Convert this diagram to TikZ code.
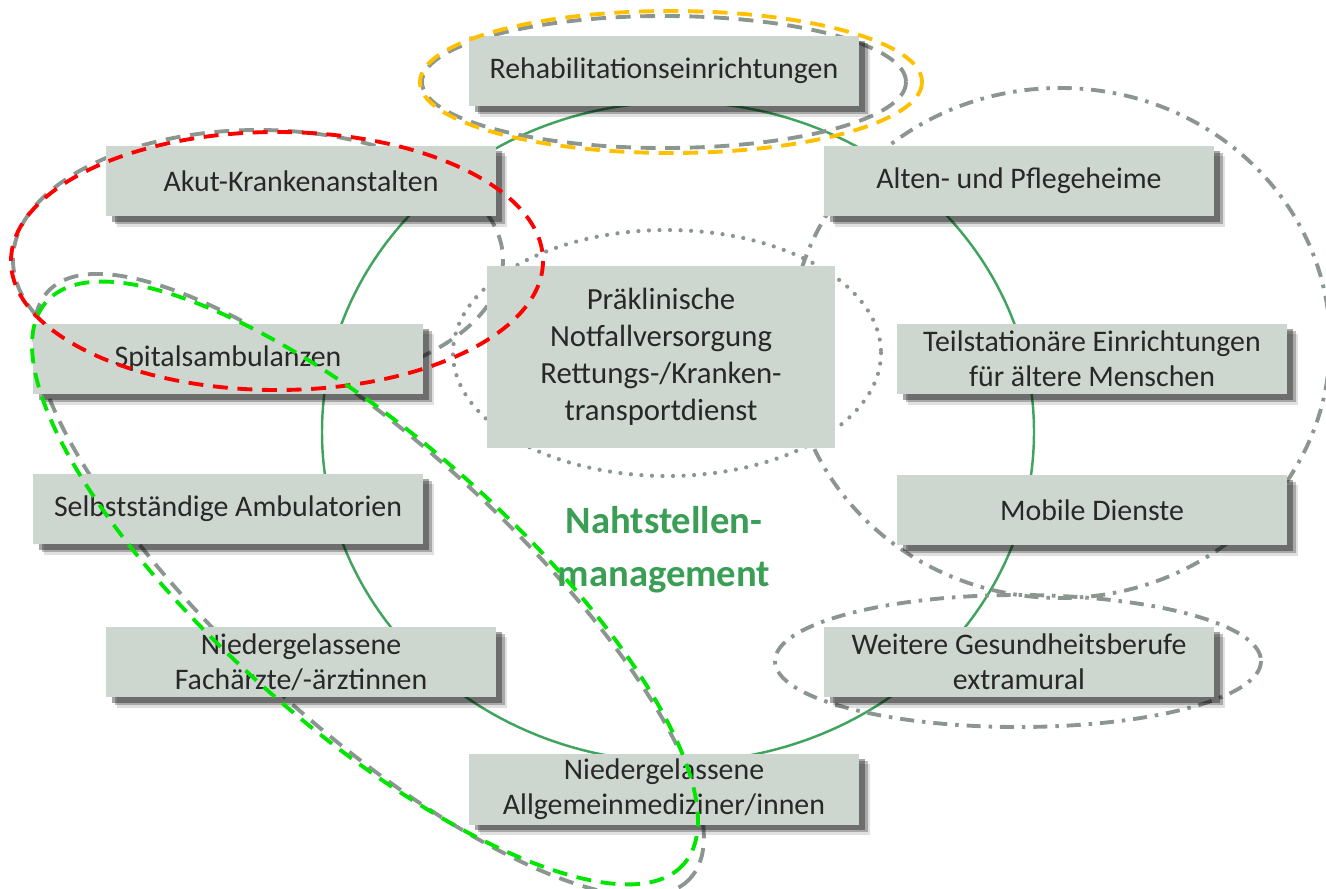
\documentclass[tikz,border=0pt]{standalone}
\usepackage{fontspec}
\setmainfont{Carlito}
\usepackage{tikz}
\usetikzlibrary{shadows}

\definecolor{boxfill}{RGB}{206,215,207}
\definecolor{boxtext}{RGB}{40,40,40}
\definecolor{kreisgruen}{RGB}{64,163,94}
\definecolor{titelgruen}{RGB}{58,158,85}
\definecolor{strichgrau}{RGB}{140,150,145}
\definecolor{orangegelb}{RGB}{255,192,0}
\definecolor{hellgruen}{RGB}{0,230,0}

\begin{document}
\begin{tikzpicture}[x=0.02cm,y=-0.02cm,
  feld/.style={rectangle,fill=boxfill,text=boxtext,align=center,
    font=\fontsize{17}{20}\selectfont,minimum width=7.8cm,minimum height=1.42cm,inner sep=0pt},
  einrichtung/.style={feld,
    drop shadow={shadow xshift=6.5pt,shadow yshift=-6pt,fill=black,opacity=.12},
    drop shadow={shadow xshift=5pt,shadow yshift=-4.5pt,fill=black,opacity=.25},
    drop shadow={shadow xshift=3.5pt,shadow yshift=-3pt,fill=black,opacity=.35}},
  gestrichelt/.style={line width=2.2pt,dash pattern=on 8.5pt off 5.5pt},
  grauoval/.style={gestrichelt,strichgrau},
  strichpunkt/.style={line width=2.2pt,strichgrau,dash pattern=on 8pt off 4.5pt on 2pt off 4.5pt},
  gepunktet/.style={line width=2.4pt,strichgrau,line cap=round,dash pattern=on 0pt off 6pt}]
\useasboundingbox (0,0) rectangle (1326,889);

% Kreis
\draw[kreisgruen,line width=1.4pt] (678,432) ellipse (356 and 330);

% graue Ovale (hinter den Kaestchen)
\draw[grauoval] (664,82) ellipse (242 and 66);
\draw[grauoval] (258,260) ellipse (245 and 130);
\draw[grauoval,rotate around={-42.4:(369,585)}] (369,585) ellipse (435 and 140);
\draw[gepunktet] (667,353) ellipse (214 and 123);
\draw[strichpunkt] (1060,343) ellipse (270 and 255);
\draw[strichpunkt] (1018,661) ellipse (243 and 66);

% Einrichtungen
\node[einrichtung] (rehab) at (664,71) {Rehabilitationseinrichtungen};
\node[einrichtung] (akut) at (301,181) {Akut-Krankenanstalten};
\node[einrichtung] (alten) at (1019,181) {Alten- und Pflegeheime};
\node[einrichtung] (spital) at (228,359) {Spitalsambulanzen};
\node[feld,font=\fontsize{17.5}{21}\selectfont,minimum width=6.98cm,minimum height=3.66cm] (praekl) at (661,357)
  {Präklinische\\Notfallversorgung\\Rettungs-/Kranken-\\transportdienst};
\node[einrichtung] (teil) at (1092,359) {Teilstationäre Einrichtungen\\für ältere Menschen};
\node[einrichtung] (selbst) at (228,509) {Selbstständige Ambulatorien};
\node[einrichtung] (mobil) at (1092,510) {Mobile Dienste};
\node[einrichtung] (fach) at (301,662) {Niedergelassene\\Fachärzte/-ärztinnen};
\node[einrichtung] (weitere) at (1019,662) {Weitere Gesundheitsberufe\\extramural};
\node[einrichtung] (allgemein) at (664,789) {Niedergelassene\\Allgemeinmediziner/innen};

% Mitte
\node[text=titelgruen,font=\bfseries\fontsize{22}{30}\selectfont,align=center] (naht) at (664,550)
  {Nahtstellen-\\management};

% farbige Ovale (oben)
\draw[gestrichelt,orangegelb] (671,82) ellipse (251 and 71);
\draw[gestrichelt,red] (277,261) ellipse (266 and 129);
\draw[gestrichelt,hellgruen,rotate around={-41.4:(365,583)}] (365,583) ellipse (425 and 145);
\end{tikzpicture}
\end{document}
